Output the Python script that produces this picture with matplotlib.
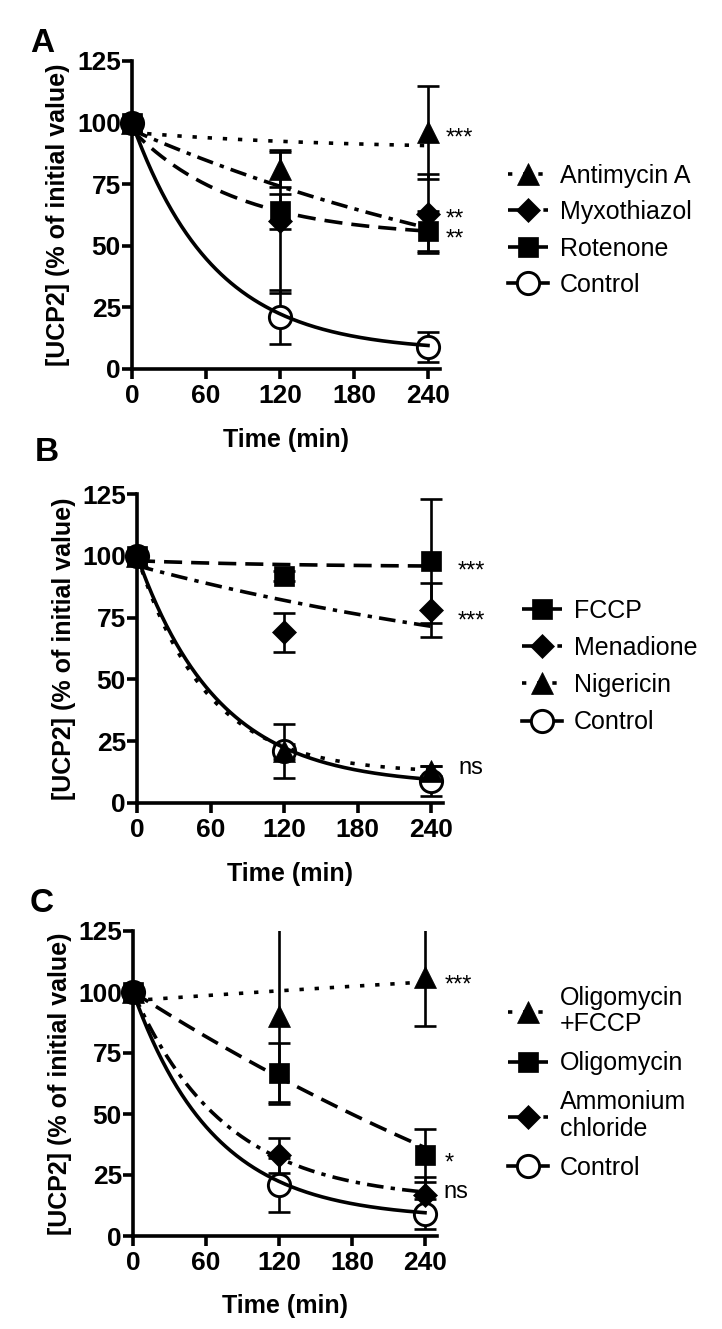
import numpy as np
import matplotlib
matplotlib.use("Agg")
import matplotlib.pyplot as plt

plt.rcParams['font.family'] = ['Liberation Sans', 'DejaVu Sans']

W, H = 722, 1329

time = [0, 120, 240]

# panel A
antimycin_a = [100, 81, 96]
antimycin_a_err = [0, 7, 19]
myxothiazol = [100, 60, 63]
myxothiazol_err = [0, 29, 16]
rotenone = [100, 64, 56]
rotenone_err = [0, 7, 8]
control = [100, 21, 9]
control_err = [0, 11, 6]

# panel B
fccp = [100, 92, 98]
fccp_err = [0, 2, 25]
menadione = [100, 69, 78]
menadione_err = [0, 8, 11]
nigericin = [100, 21, 13]
nigericin_err = [0, 3, 2]

# panel C
oligo_fccp = [100, 90, 106]
oligo_fccp_err = [0, 36, 20]
oligomycin = [100, 67, 33]
oligomycin_err = [0, 12, 11]
ammonium = [100, 33, 17]
ammonium_err = [0, 7, 7]

# one-phase decay fits: (Y0, plateau, K)
fit_antimycin_a = (96, 89, 0.006)
fit_myxothiazol = (97, 8.8, 0.0025)
fit_rotenone = (97, 53.4, 0.0118)
fit_control = (100, 7, 0.015)
fit_fccp = (98, 95.5, 0.008)
fit_menadione = (96, 40, 0.0024)
fit_nigericin = (100, 12, 0.0175)
fit_oligo_fccp = (96.5, 140, 0.0008)
fit_oligomycin = (100, -100, 0.0016)
fit_ammonium = (100, 14.4, 0.0132)

yticks = [0, 25, 50, 75, 100, 125]
xticks = [0, 60, 120, 180, 240]

DOT = (0, (1.2, 3.0))
DASH = (0, (5.0, 2.5))
DASHDOT = (0, (4.6, 2.0, 1.2, 2.0))
SOLID = '-'
LW = 2.6

fig = plt.figure(figsize=(W / 100, H / 100), dpi=100)


def make_axes(left, x240, top, bottom):
    width = (x240 - left) * 250 / 240
    return fig.add_axes([left / W, 1 - bottom / H, width / W, (bottom - top) / H])


def decay(p, x):
    y0, plateau, k = p
    return (y0 - plateau) * np.exp(-k * x) + plateau


def draw_series(ax, y, err, fit, marker, ms, ls, label, open_marker=False):
    xs = np.linspace(0, 240, 300)
    ax.errorbar(time, y, yerr=err, fmt='none', ecolor='k', elinewidth=1.9,
                capsize=8, capthick=1.9, zorder=2, clip_on=True)
    fc = 'white' if open_marker else 'k'
    mew = 2.1 if open_marker else 0.5
    ax.plot(time, y, linestyle='none', marker=marker, ms=ms, mfc=fc, mec='k',
            mew=mew, zorder=2.5 if open_marker else 3, clip_on=False)
    ax.plot(xs, decay(fit, xs), color='k', lw=LW, linestyle=ls, zorder=4,
            clip_on=False)
    return plt.Line2D([], [], color='k', lw=LW, linestyle=ls, marker=marker,
                      ms=ms, mfc=fc, mec='k', mew=mew, label=label)


def style_axes(ax):
    ax.set_xlim(0, 250)
    ax.set_ylim(0, 125)
    ax.set_xticks(xticks)
    ax.set_yticks(yticks)
    for s in ['top', 'right']:
        ax.spines[s].set_visible(False)
    for s in ['left', 'bottom']:
        ax.spines[s].set_linewidth(2.6)
    ax.tick_params(width=2.6, length=7, labelsize=19, direction='out')
    ax.tick_params(axis='x', pad=4)
    ax.tick_params(axis='y', pad=1)
    for lab in ax.get_xticklabels() + ax.get_yticklabels():
        lab.set_fontweight('bold')
    ax.set_xlabel('Time (min)', fontsize=18, fontweight='bold')
    ax.set_ylabel('[UCP2] (% of initial value)', fontsize=18, fontweight='bold')


MS_T, MS_D, MS_S, MS_O = 16, 12, 15, 16

# ---- A
axA = make_axes(132, 428, 61, 369)
hA = [
    draw_series(axA, antimycin_a, antimycin_a_err, fit_antimycin_a, '^', MS_T, DOT, 'Antimycin A'),
    draw_series(axA, myxothiazol, myxothiazol_err, fit_myxothiazol, 'D', MS_D, DASHDOT, 'Myxothiazol'),
    draw_series(axA, rotenone, rotenone_err, fit_rotenone, 's', MS_S, DASH, 'Rotenone'),
    draw_series(axA, control, control_err, fit_control, 'o', MS_O, SOLID, 'Control', True),
]
style_axes(axA)

# ---- B
axB = make_axes(137, 431, 494, 803)
hB = [
    draw_series(axB, fccp, fccp_err, fit_fccp, 's', MS_S, DASH, 'FCCP'),
    draw_series(axB, menadione, menadione_err, fit_menadione, 'D', MS_D, DASHDOT, 'Menadione'),
    draw_series(axB, nigericin, nigericin_err, fit_nigericin, '^', MS_T, DOT, 'Nigericin'),
    draw_series(axB, control, control_err, fit_control, 'o', MS_O, SOLID, 'Control', True),
]
style_axes(axB)

# ---- C
axC = make_axes(133, 425, 931, 1236)
hC = [
    draw_series(axC, oligo_fccp, oligo_fccp_err, fit_oligo_fccp, '^', MS_T, DOT, 'Oligomycin\n+FCCP'),
    draw_series(axC, oligomycin, oligomycin_err, fit_oligomycin, 's', MS_S, DASH, 'Oligomycin'),
    draw_series(axC, ammonium, ammonium_err, fit_ammonium, 'D', MS_D, DASHDOT, 'Ammonium\nchloride'),
    draw_series(axC, control, control_err, fit_control, 'o', MS_O, SOLID, 'Control', True),
]
style_axes(axC)

for ax in (axA, axB, axC):
    ax.yaxis.set_label_coords(-0.2, 0.5)
    ax.xaxis.set_label_coords(0.5, -0.19)

# significance marks
sig = [
    (axA, 254, 96, '***'), (axA, 254, 63, '**'), (axA, 254, 55, '**'),
    (axB, 262, 96, '***'), (axB, 262, 76, '***'), (axB, 262, 14, 'ns'),
    (axC, 256, 105, '***'), (axC, 256, 32, '*'), (axC, 255, 18, 'ns'),
]
for ax, x, y, t in sig:
    ax.text(x, y - (2.5 if '*' in t else 0), t, fontsize=17, va='center', ha='left', clip_on=False)

# legends
leg_pos = [(axA, hA, 495, 151, 0.5), (axB, hB, 509, 586, 0.53), (axC, hC, 495, 973, 0.6)]
for ax, h, lx, ly, sp in leg_pos:
    leg = ax.legend(handles=h, loc='upper left', bbox_to_anchor=(lx / W, 1 - ly / H),
                    bbox_transform=fig.transFigure, frameon=False, fontsize=18,
                    handlelength=1.6, handletextpad=0.5, labelspacing=sp, borderpad=0)
    for t in leg.get_texts():
        t.set_linespacing(1.15)

# panel letters
for t, x, y in [('A', 42, 43), ('B', 47, 452), ('C', 42, 903)]:
    fig.text(x / W, 1 - y / H, t, fontsize=24, fontweight='bold', ha='center', va='center')

fig.savefig('out.png', dpi=100)
